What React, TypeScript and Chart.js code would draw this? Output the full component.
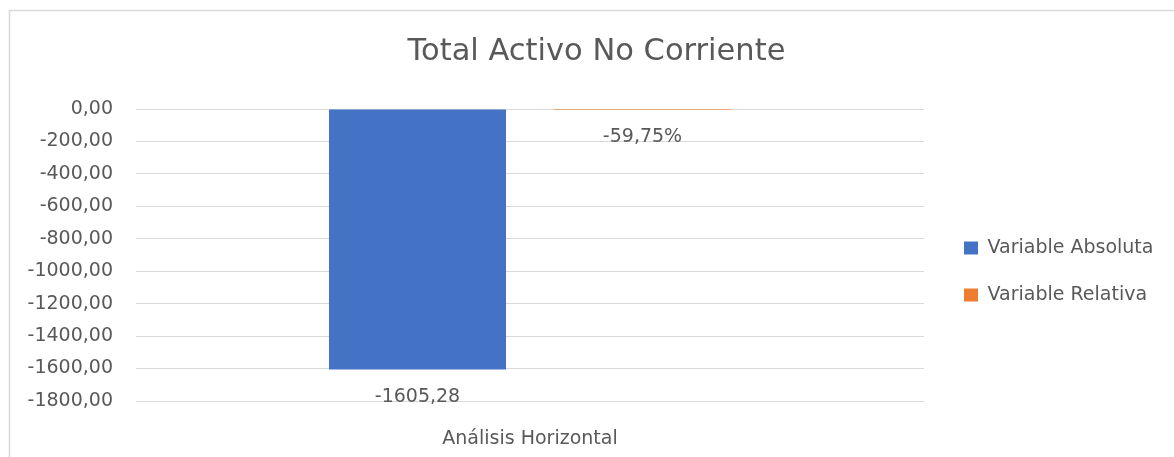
import React, { useEffect, useRef } from 'react';
import { Chart, registerables } from 'chart.js';

Chart.register(...registerables);

const chartTitle = 'Total Activo No Corriente';
const categories = ['Análisis Horizontal'];
const seriesNames = ['Variable Absoluta', 'Variable Relativa'];
const absoluteValues = [-1605.28];
const relativeValues = [-0.5975];
const yMin = -1800;
const yMax = 0;
const yStep = 200;

const FONT = 'DejaVu Sans';
const FS = 19;
const TEXT = '#595959';
const GRID = '#d9d9d9';
const BLUE = '#4472C4';
const ORANGE = '#ED7D31';

const fmtNum = (v: number) => (Math.abs(v) < 1e-9 ? 0 : v).toFixed(2).replace('.', ',');
const fmtPct = (v: number) => (v * 100).toFixed(2).replace('.', ',') + '%';

const borderPlugin = {
  id: 'outerBorder',
  beforeDraw(chart: any) {
    const ctx = chart.ctx;
    ctx.save();
    ctx.fillStyle = '#ffffff';
    ctx.fillRect(0, 0, chart.width, chart.height);
    ctx.strokeStyle = GRID;
    ctx.lineWidth = 1.5;
    ctx.beginPath();
    ctx.moveTo(9.5, chart.height + 2);
    ctx.lineTo(9.5, 10.5);
    ctx.lineTo(chart.width + 2, 10.5);
    ctx.stroke();
    ctx.restore();
  },
};

// Excel-like placement: legend column width fixed, title centred on the frame
const layoutTweaks = {
  id: 'layoutTweaks',
  beforeLayout(chart: any) {
    const l = chart.legend;
    if (l && !l.__patched) {
      const orig = l.fit.bind(l);
      l.fit = function () {
        orig();
        this.width = 250;
      };
      l.__patched = true;
    }
  },
  afterLayout(chart: any) {
    const l = chart.legend;
    if (l) {
      const dx = chart.chartArea.right + 12 - l.left;
      l.left += dx;
      l.right += dx;
      l.top = 210;
      l.bottom = 333;
    }
    const t = chart.titleBlock;
    if (t) {
      t.left = 19;
      t.right = chart.width;
    }
  },
};

const labelsPlugin = {
  id: 'barLabels',
  afterDatasetsDraw(chart: any) {
    const ctx = chart.ctx;
    ctx.save();
    ctx.font = `${FS}px "${FONT}"`;
    ctx.fillStyle = TEXT;
    ctx.textAlign = 'center';
    ctx.textBaseline = 'middle';
    chart.data.datasets.forEach((ds: any, di: number) => {
      const meta = chart.getDatasetMeta(di);
      meta.data.forEach((bar: any, i: number) => {
        const v = ds.data[i];
        const text = di === 0 ? fmtNum(v) : fmtPct(v);
        ctx.fillText(text, bar.x, bar.y + 28);
      });
    });
    ctx.restore();
  },
};

export default function App() {
  const ref = useRef<HTMLCanvasElement>(null);
  useEffect(() => {
    const chart = new Chart(ref.current as HTMLCanvasElement, {
      type: 'bar',
      data: {
        labels: categories,
        datasets: [
          {
            label: seriesNames[0],
            data: absoluteValues,
            backgroundColor: BLUE,
            borderWidth: 0,
            categoryPercentage: 0.5711,
            barPercentage: 0.7867,
          },
          {
            label: seriesNames[1],
            data: relativeValues,
            backgroundColor: ORANGE,
            borderWidth: 0,
            categoryPercentage: 0.5711,
            barPercentage: 0.7867,
          },
        ],
      },
      options: {
        responsive: false,
        animation: false,
        layout: { padding: { left: 0, right: 0, top: 0, bottom: 0 } },
        plugins: {
          title: {
            display: true,
            text: chartTitle,
            color: TEXT,
            font: { family: FONT, size: 30.5, weight: 'normal' },
            padding: { top: 34, bottom: 38.4 },
          },
          legend: {
            position: 'right',
            fullSize: false,
            labels: {
              color: TEXT,
              font: { family: FONT, size: FS },
              boxWidth: 14,
              boxHeight: 13,
              padding: 28,
            },
          },
          tooltip: { enabled: false },
        },
        scales: {
          x: {
            grid: { display: false },
            border: { display: false },
            ticks: { color: TEXT, font: { family: FONT, size: FS }, padding: 19 },
            afterFit: (s: any) => {
              s.height = 56;
            },
          },
          y: {
            min: yMin,
            max: yMax,
            grid: { color: GRID, lineWidth: 1, drawTicks: false },
            border: { display: false },
            ticks: {
              stepSize: yStep,
              color: TEXT,
              font: { family: FONT, size: FS },
              padding: 23,
              callback: (v: any) => fmtNum(Number(v)),
            },
            afterFit: (s: any) => {
              s.width = 136;
            },
          },
        },
      },
      plugins: [borderPlugin, layoutTweaks, labelsPlugin],
    } as any);
    return () => chart.destroy();
  }, []);
  return (
    <div style={{ position: 'fixed', left: 0, top: 0, width: 1174, height: 457, overflow: 'hidden', background: '#fff' }}>
      <canvas ref={ref} width={1174} height={457} style={{ display: 'block' }} />
    </div>
  );
}
